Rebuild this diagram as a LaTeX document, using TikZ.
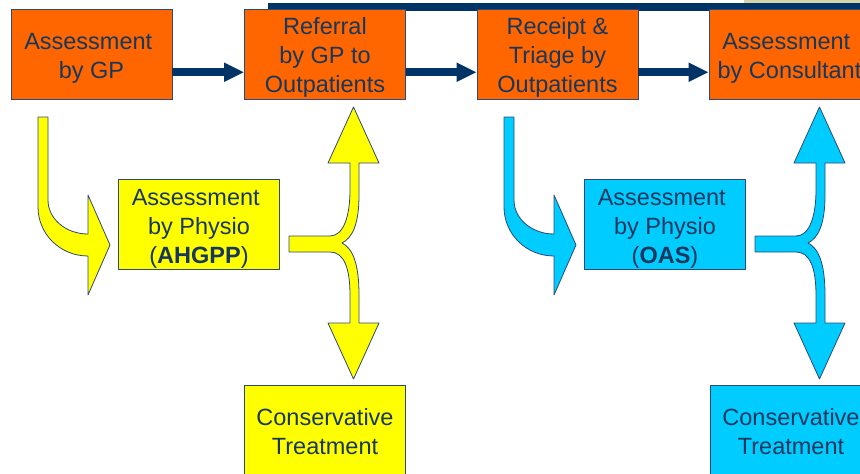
\documentclass[tikz,border=0pt]{standalone}
\usepackage{fontspec}
\setmainfont{Liberation Sans}
\usetikzlibrary{arrows.meta}
\definecolor{orng}{HTML}{FF6600}
\definecolor{yel}{HTML}{FFFF00}
\definecolor{cyn}{HTML}{00CCFF}
\definecolor{navy}{HTML}{003366}
\definecolor{txt}{HTML}{17375E}
\definecolor{edgec}{HTML}{2B4A78}
\definecolor{beige}{HTML}{D6D3A9}
\newcommand\txtlift[1]{\rule{0pt}{#1}}
\begin{document}
\begin{tikzpicture}[x=1pt,y=-1pt,
  box/.style={draw=edgec,line width=0.8pt,minimum width=161pt,minimum height=90pt,
    inner sep=0pt,align=center,text=txt,font=\fontsize{23.5pt}{29pt}\selectfont},
  orangebox/.style={box,fill=orng},
  yellowbox/.style={box,fill=yel},
  bluebox/.style={box,fill=cyn},
  flowarrow/.style={navy,line width=8pt,-{Triangle[length=20pt 0 0,width=18pt 0 0]}},
  blockarrow/.style={draw=edgec,line width=0.8pt,line join=round}]
\useasboundingbox (0,0) rectangle (860,474);
\clip (0,0) rectangle (860,474);
% top band
\fill[navy] (268,2.5) rectangle (860,11);
\fill[beige] (744,0) rectangle (860,3);
% top row
\node[orangebox] (gp)   at (91.5,54.25)  {\txtlift{24.5pt}Assessment\hspace*{6.5pt}\\by GP};
\node[orangebox] (ref)  at (325,54.25)   {\txtlift{23pt}Referral\\by GP to\\Outpatients};
\node[orangebox] (tri)  at (557.5,54.25) {\txtlift{23pt}Receipt \&\\Triage by\\Outpatients};
\node[orangebox] (cons) at (789.5,54.25) {\txtlift{24.5pt}Assessment\hspace*{6.5pt}\\by Consultant};
\draw[flowarrow] ([yshift=-18pt]gp.east)  -- ([yshift=-18pt]ref.west);
\draw[flowarrow] ([yshift=-18pt]ref.east) -- ([yshift=-18pt]tri.west);
\draw[flowarrow] ([yshift=-18pt]tri.east) -- ([yshift=-18pt]cons.west);
% physio boxes
\node[yellowbox] (ahg) at (199,224) {\txtlift{26.5pt}Assessment\hspace*{6.5pt}\\by Physio\\(\textbf{AHGPP})};
\node[bluebox]   (oas) at (665,224) {\txtlift{26.5pt}Assessment\hspace*{6.5pt}\\by Physio\\(\textbf{OAS})};
% conservative boxes
\node[yellowbox] (cty) at (325,430) {\txtlift{19.5pt}Conservative\\Treatment};
\node[bluebox]   (ctb) at (791,430) {\txtlift{19.5pt}Conservative\\Treatment};
% yellow block arrows
\filldraw[blockarrow,fill=yel] (38,117) -- (48,117) -- (48,200)
  .. controls (48,219) and (66,234) .. (88,234) -- (88,195) -- (110,245) -- (88,295) -- (88,256)
  .. controls (60,256) and (38,234) .. (38,207) -- cycle;
\filldraw[blockarrow,fill=yel] (289,236) -- (330,236)
  .. controls (344,236) and (350,215) .. (350,190) -- (350,163) -- (328,163) -- (353.5,107)
  -- (379,163) -- (359,163) -- (359,195)
  .. controls (359,225) and (352,238) .. (342,243)
  .. controls (352,248) and (359,262) .. (359,295) -- (359,323) -- (379,323) -- (353.5,379)
  -- (328,323) -- (350,323) -- (350,295)
  .. controls (350,268) and (344,252) .. (330,252) -- (289,252) -- cycle;
% blue block arrows
\begin{scope}[xshift=466pt]
\filldraw[blockarrow,fill=cyn] (38,117) -- (48,117) -- (48,200)
  .. controls (48,219) and (66,234) .. (88,234) -- (88,195) -- (110,245) -- (88,295) -- (88,256)
  .. controls (60,256) and (38,234) .. (38,207) -- cycle;
\filldraw[blockarrow,fill=cyn] (289,236) -- (330,236)
  .. controls (344,236) and (350,215) .. (350,190) -- (350,163) -- (328,163) -- (353.5,107)
  -- (379,163) -- (359,163) -- (359,195)
  .. controls (359,225) and (352,238) .. (342,243)
  .. controls (352,248) and (359,262) .. (359,295) -- (359,323) -- (379,323) -- (353.5,379)
  -- (328,323) -- (350,323) -- (350,295)
  .. controls (350,268) and (344,252) .. (330,252) -- (289,252) -- cycle;
\end{scope}
\end{tikzpicture}
\end{document}
